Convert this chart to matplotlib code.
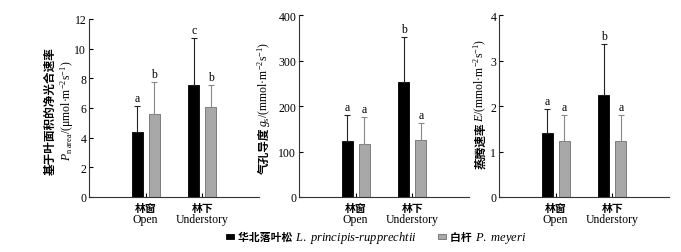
import matplotlib
matplotlib.use("Agg")
import matplotlib.pyplot as plt
from matplotlib.patches import Rectangle
from matplotlib.font_manager import FontProperties
import numpy as np

plt.rcParams['font.family'] = ['Liberation Serif', 'Noto Sans CJK SC']
plt.rcParams['mathtext.fontset'] = 'custom'
plt.rcParams['mathtext.rm'] = 'Liberation Serif'
plt.rcParams['mathtext.it'] = 'Liberation Serif:italic'
plt.rcParams['axes.unicode_minus'] = False

groups_cn = ["林窗", "林下"]
groups_en = ["Open", "Understory"]
species_cn = ["华北落叶松 ", "白杆 "]
species_la = ["$L.$ $principis$-$rupprechtii$", "$P.$ $meyeri$"]

pn_larch = [4.36, 7.57]
pn_larch_err = [6.16, 10.7]
pn_spruce = [5.6, 6.09]
pn_spruce_err = [7.73, 7.57]
pn_letters = [["a", "c"], ["b", "b"]]

gs_larch = [122, 252]
gs_larch_err = [181, 352]
gs_spruce = [117, 125]
gs_spruce_err = [175, 162]
gs_letters = [["a", "b"], ["a", "a"]]

e_larch = [1.41, 2.24]
e_larch_err = [1.94, 3.37]
e_spruce = [1.23, 1.23]
e_spruce_err = [1.81, 1.81]
e_letters = [["a", "b"], ["a", "a"]]

W, H = 681, 253
cjk_lab = FontProperties(family='Noto Sans CJK SC', size=8.4, weight='bold')
ser_lab = FontProperties(family='Liberation Serif', size=8.5)
cjk_tick = FontProperties(family='Noto Sans CJK SC', size=7.8, weight='bold')
ser_tick = FontProperties(family='Liberation Serif', size=8.5)
cjk_leg = FontProperties(family='Noto Sans CJK SC', size=7.8, weight='bold')
ser_leg = FontProperties(family='Liberation Serif', size=9.0)

panels = [
    dict(l=pn_larch, le=pn_larch_err, s=pn_spruce, se=pn_spruce_err, let=pn_letters,
         ylim=12, yt=[0, 2, 4, 6, 8, 10, 12],
         labels=[(54, 111, [("基于叶面积的净光合速率", cjk_lab)]),
                 (71, 111, [("$P_{\\mathrm{n\\ area}}$/(μmol·m$^{-2}$s$^{-1}$)", ser_lab)])],
         pos=[89/W, 1-198/H, 170/W, 178/H]),
    dict(l=gs_larch, le=gs_larch_err, s=gs_spruce, se=gs_spruce_err, let=gs_letters,
         ylim=400, yt=[0, 100, 200, 300, 400],
         labels=[(268, 108, [("气孔导度", cjk_lab),
                             ("$g_{\\mathrm{s}}$/(mmol·m$^{-2}$s$^{-1}$)", ser_lab)])],
         pos=[299/W, 1-198/H, 170/W, 182/H]),
    dict(l=e_larch, le=e_larch_err, s=e_spruce, se=e_spruce_err, let=e_letters,
         ylim=4, yt=[0, 1, 2, 3, 4],
         labels=[(484, 104, [("蒸腾速率", cjk_lab),
                             ("$E$/(mmol·m$^{-2}$s$^{-1}$)", ser_lab)])],
         pos=[499/W, 1-198/H, 170/W, 182/H]),
]

fig = plt.figure(figsize=(W/100, H/100), dpi=100)
renderer = fig.canvas.get_renderer()


def piece_width(s, fp):
    t = fig.text(0, 0, s, fontproperties=fp)
    w = t.get_window_extent(renderer).width
    t.remove()
    return w


def draw_pieces(x_px, y_px, pieces, vertical=False, center=True):
    widths = [piece_width(s, fp) for s, fp in pieces]
    total = sum(widths)
    if vertical:
        pos = (H - y_px) - (total / 2 if center else 0)
        for (s, fp), w in zip(pieces, widths):
            fig.text(x_px / W, pos / H, s, fontproperties=fp, rotation=90,
                     rotation_mode='anchor', ha='left', va='baseline')
            pos += w
    else:
        pos = x_px - (total / 2 if center else 0)
        for (s, fp), w in zip(pieces, widths):
            fig.text(pos / W, (H - y_px) / H, s, fontproperties=fp,
                     ha='left', va='baseline')
            pos += w
    return pos


x = np.array([1, 2])
w = 0.19
off = 0.15
black = "#000000"
gray = "#a8a8a8"
gray_edge = "#6e6e6e"

for p in panels:
    ax = fig.add_axes(p['pos'])
    l = np.array(p['l']); s = np.array(p['s'])
    ax.bar(x - off, l, w, color=black, edgecolor=black, linewidth=0.6,
           yerr=[np.zeros(2), np.array(p['le']) - l], ecolor="#222222",
           error_kw=dict(elinewidth=0.8, capsize=2.5, capthick=0.8))
    ax.bar(x + off, s, w, color=gray, edgecolor=gray_edge, linewidth=0.6,
           yerr=[np.zeros(2), np.array(p['se']) - s], ecolor="#888888",
           error_kw=dict(elinewidth=0.8, capsize=2.5, capthick=0.8))
    for i in range(2):
        ax.annotate(p['let'][0][i], (x[i] - off, p['le'][i]), xytext=(0, 1.5),
                    textcoords='offset points', ha='center', va='bottom', fontsize=8.5)
        ax.annotate(p['let'][1][i], (x[i] + off, p['se'][i]), xytext=(0, 1.5),
                    textcoords='offset points', ha='center', va='bottom', fontsize=8.5)
    ax.set_xlim(0, 3)
    ax.set_ylim(0, p['ylim'])
    ax.set_yticks(p['yt'])
    ax.set_xticks(x)
    ax.set_xticklabels([])
    for i in range(2):
        ax.annotate(groups_cn[i], (x[i], 0), xycoords=('data', 'axes fraction'),
                    xytext=(0, -11), textcoords='offset pixels', ha='center', va='center',
                    fontproperties=cjk_tick)
        ax.annotate(groups_en[i], (x[i], 0), xycoords=('data', 'axes fraction'),
                    xytext=(0, -22), textcoords='offset pixels', ha='center', va='center',
                    fontproperties=ser_tick)
    ax.spines['top'].set_visible(False)
    ax.spines['right'].set_visible(False)
    for sp in ['left', 'bottom']:
        ax.spines[sp].set_linewidth(0.8)
        ax.spines[sp].set_color("#333333")
    ax.tick_params(axis='y', direction='in', length=3, width=0.8, labelsize=8.5, pad=2)
    ax.tick_params(axis='x', direction='in', length=3, width=0.8)
    for lx, ly, pieces in p['labels']:
        draw_pieces(lx, ly, pieces, vertical=True)

# legend (laid out from measured text widths, centred under the figure)
entries = [(black, black, species_cn[0], species_la[0]),
           (gray, gray_edge, species_cn[1], species_la[1])]
patch_w, patch_gap, entry_gap = 8, 4, 22
entry_w = [patch_w + patch_gap + piece_width(c, cjk_leg) + piece_width(la, ser_leg)
           for _, _, c, la in entries]
total_w = sum(entry_w) + entry_gap
xpos = 376 - total_w / 2
for (fc, ec, c, la), ew in zip(entries, entry_w):
    fig.patches.append(Rectangle((xpos / W, 1 - 240 / H), patch_w / W, 5 / H,
                                 transform=fig.transFigure, facecolor=fc,
                                 edgecolor=ec, linewidth=0.6))
    draw_pieces(xpos + patch_w + patch_gap, 241, [(c, cjk_leg), (la, ser_leg)],
                center=False)
    xpos += ew + entry_gap

fig.savefig("out.png", dpi=100)
